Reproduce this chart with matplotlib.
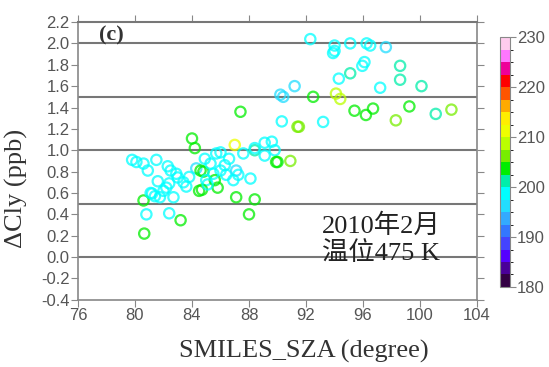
import matplotlib
matplotlib.use("Agg")
import matplotlib.pyplot as plt
import numpy as np
from matplotlib.colors import ListedColormap, BoundaryNorm

# SZA (degree), delta Cly (ppb), temperature (K)
sza = [79.8, 80.1, 80.6, 80.9, 81.5, 81.6, 82.3, 82.5, 82.9, 83.0,
       82.4, 82.2, 83.4, 82.7, 81.75, 81.2, 81.4, 80.6, 80.8, 82.4,
       83.2, 80.65, 84.0, 84.2, 84.3, 84.6, 84.5, 87.4, 87.0, 90.3,
       91.4, 86.0, 87.6, 88.4, 89.1, 89.6, 89.8, 89.1, 90.0, 90.9,
       84.8, 85.3, 86.3, 86.0, 86.4, 87.1, 87.25, 86.9, 88.1, 85.0,
       85.6, 85.8, 84.7, 87.1, 88.4, 88.0, 85.7, 83.6, 82.0, 81.1,
       92.3, 94.0, 94.0, 93.9, 95.1, 96.25, 96.5, 97.6, 96.1, 95.95,
       95.1, 94.3, 98.6, 98.6, 97.2, 100.1, 91.2, 90.2, 90.4, 92.5,
       94.1, 94.4, 95.4, 96.2, 96.7, 99.25, 98.3, 101.1, 102.2, 93.2,
       91.5, 88.4, 89.9, 85.5, 86.6, 83.8, 85.1, 84.9]
dcly = [0.91, 0.89, 0.875, 0.81, 0.91, 0.71, 0.85, 0.81, 0.78, 0.745,
        0.69, 0.65, 0.70, 0.56, 0.56, 0.595, 0.57, 0.53, 0.40, 0.41,
        0.345, 0.22, 1.11, 1.02, 0.83, 0.81, 0.62, 1.36, 1.05, 1.27,
        1.22, 0.98, 0.97, 1.00, 1.07, 1.08, 1.00, 0.95, 0.89, 0.90,
        0.80, 0.875, 0.86, 0.81, 0.77, 0.81, 0.77, 0.72, 0.735, 0.72,
        0.72, 0.65, 0.63, 0.56, 0.54, 0.40, 0.97, 0.66, 0.62, 0.60,
        2.04, 1.98, 1.93, 1.91, 2.00, 2.00, 1.98, 1.965, 1.825, 1.79,
        1.72, 1.67, 1.79, 1.66, 1.585, 1.60, 1.60, 1.52, 1.50, 1.50,
        1.53, 1.48, 1.37, 1.33, 1.39, 1.41, 1.28, 1.34, 1.38, 1.265,
        1.22, 1.02, 0.89, 0.78, 0.92, 0.75, 0.68, 0.92]
temp = [199, 199, 198, 198, 199, 199, 198, 198, 198, 199,
        199, 199, 199, 199, 199, 199, 198, 203, 199, 198,
        203.5, 204, 204, 203, 196, 204, 204, 204, 211, 199,
        207, 199, 199, 201, 199, 198, 199, 199, 204, 207,
        204, 199, 199, 199, 199, 197, 199, 199, 199, 199,
        203.5, 204, 203.5, 204, 203, 203.5, 199, 199, 199, 199,
        199, 199, 199, 199, 199, 199, 199, 197, 199, 199,
        201, 199, 201, 202, 199, 201, 197, 196, 196, 204,
        208, 208, 204, 204, 204, 204, 207, 200, 207, 199,
        207, 199, 204, 199, 199, 199, 199, 199]

x_ticks = [76, 80, 84, 88, 92, 96, 100, 104]
y_ticks = [-0.4, -0.2, 0.0, 0.2, 0.4, 0.6, 0.8, 1.0, 1.2, 1.4, 1.6, 1.8, 2.0, 2.2]
h_lines = [0.0, 0.5, 1.0, 1.5, 2.0]
cb_ticks = [180, 190, 200, 210, 220, 230]

band_colors = ["#330044", "#4a0099", "#5500ff", "#4444ff", "#3377ff",
               "#33aaff", "#22ddff", "#00ffff", "#00eeaa", "#00ee00",
               "#77ee00", "#bbff00", "#eeff00", "#ffee00", "#ffaa00",
               "#ff5500", "#ff0000", "#ee0099", "#ff77ff", "#ffccee"]
cmap = ListedColormap(band_colors)
norm = BoundaryNorm(np.linspace(180, 230, 21), cmap.N)

serif = ["Liberation Serif", "Noto Sans CJK SC"]
tick_col = "#555555"

fig = plt.figure(figsize=(5.49, 3.67), dpi=100)
ax = fig.add_axes([0.142, 0.183, 0.727, 0.757])

for h in h_lines:
    ax.axhline(h, color="#777777", lw=1.5, zorder=1)

ax.scatter(sza, dcly, s=55, facecolors="none", edgecolors=cmap(norm(temp)),
           linewidths=1.6, alpha=0.75, zorder=2)

ax.set_xlim(76, 104)
ax.set_ylim(-0.4, 2.2)
ax.set_xticks(x_ticks)
ax.set_yticks(y_ticks)
ax.set_yticklabels([f"{v:.1f}" for v in y_ticks])
ax.tick_params(direction="out", length=5, color="#888888", labelcolor=tick_col,
               labelsize=12, top=True, right=True, pad=1)
for lab in ax.get_xticklabels() + ax.get_yticklabels():
    lab.set_family("Liberation Sans")
for sp in ax.spines.values():
    sp.set_color("#888888")
    sp.set_linewidth(1.2)
ax.spines["top"].set_color("#777777")
ax.spines["top"].set_linewidth(1.5)

ax.set_xlabel("SMILES_SZA (degree)", family=serif, fontsize=19, color="#333333")
ax.xaxis.set_label_coords(0.566, -0.145)
ax.set_ylabel("ΔCly (ppb)", family=serif, fontsize=19, color="#333333")
ax.yaxis.set_label_coords(-0.125, 0.4)

ax.text(77.5, 2.07, "(c)", family=serif, fontsize=16, fontweight="bold",
        color="#333333", va="center")
ax.text(93.1, 0.165, "2010年2月\n温位475 K", family=serif, fontsize=19,
        color="#222222", va="center", linespacing=1.15)

cax = fig.add_axes([0.911, 0.218, 0.018, 0.681])
sm = plt.cm.ScalarMappable(cmap=cmap, norm=norm)
cb = fig.colorbar(sm, cax=cax, ticks=cb_ticks)
cb.outline.set_edgecolor("#888888")
cb.outline.set_linewidth(0.8)
cax.tick_params(length=4, color="#888888", labelcolor=tick_col, labelsize=12, pad=1)
for lab in cax.get_yticklabels():
    lab.set_family("Liberation Sans")

fig.savefig("out.png", dpi=100)
